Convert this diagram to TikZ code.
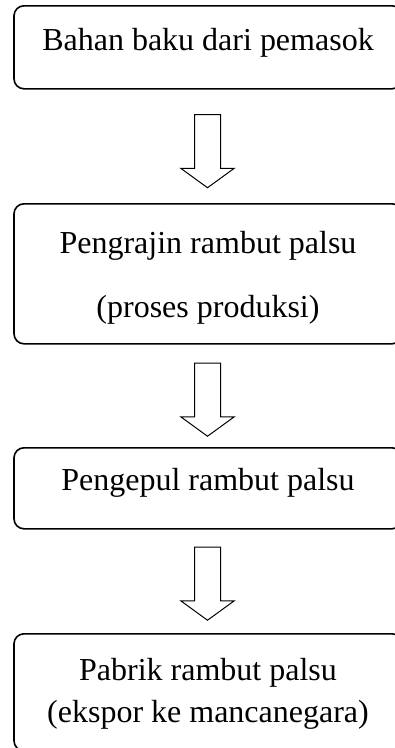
\documentclass[tikz,border=0pt]{standalone}
\usepackage{fontspec}
\setmainfont{Liberation Serif}
\usetikzlibrary{shapes.arrows}

\begin{document}
\begin{tikzpicture}[
    x=1pt, y=-1pt,
    box/.style={draw, line width=1.6pt, rounded corners=10pt, minimum width=388pt, inner sep=0pt, align=center, anchor=north, font=\fontsize{32}{42}\selectfont},
    flow/.style={draw, line width=1pt, single arrow, rotate=-90, inner sep=0pt, text height=12.5pt, text depth=12.5pt, single arrow head extend=13.5pt, single arrow tip angle=108, minimum height=73pt}
]
\clip (0,0) rectangle (395,748);

\node[box, text height=45pt, text depth=38pt] (bahan) at (208,5) {Bahan baku dari pemasok};
\node[box, text height=114pt, text depth=26pt] (pengrajin) at (208,203) {Pengrajin rambut palsu\\[22pt](proses produksi)};
\node[box, text height=43pt, text depth=38pt] (pengepul) at (208,447) {Pengepul rambut palsu};
\node[box, text height=89pt, text depth=28pt] (pabrik) at (208,633) {Pabrik rambut palsu\\(ekspor ke mancanegara)};

\node[flow] (arr1) at (207.5,146.5) {};
\node[flow] (arr2) at (207.5,395) {};
\node[flow] (arr3) at (207.5,579) {};
\end{tikzpicture}
\end{document}
